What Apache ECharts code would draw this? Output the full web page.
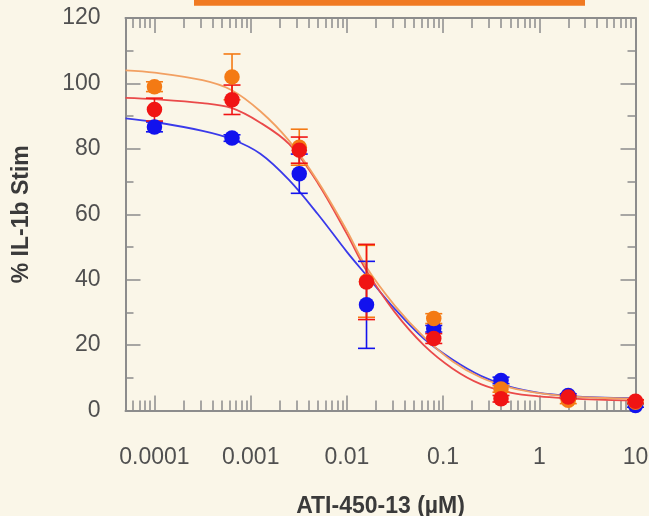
<!DOCTYPE html>
<html><head><meta charset="utf-8">
<script src="https://cdn.jsdelivr.net/npm/echarts@6/dist/echarts.min.js"></script>
<style>html,body{margin:0;padding:0;background:#faf6e8}#c{width:649px;height:516px}</style>
</head><body><div id="c"></div>
<script>
// ---- data ----
const conc = [0.0001, 0.00064, 0.0032, 0.016, 0.08, 0.4, 2, 10];
const orangeVals = [99.0, 102.0, 80.5, 39.5, 28.1, 6.6, 3.1, 2.5];
const orangeErr  = [1.5, 7.0, 5.5, 11.0, 1.5, 1.0, 1.0, 0.5];
const redVals    = [92.0, 95.0, 79.6, 39.3, 22.0, 3.6, 4.1, 2.8];
const redErr     = [3.5, 4.5, 4.0, 11.5, 1.5, 1.0, 0.5, 0.5];
const blueVals   = [86.7, 83.3, 72.4, 32.3, 25.0, 9.2, 4.6, 1.5];
const blueErr    = [1.5, 1.0, 6.0, 13.3, 1.0, 1.0, 0.5, 0.5];

// fitted curves
const curveConc   = [0.00005, 0.0001, 0.000316, 0.00063, 0.00126, 0.0025, 0.005, 0.01, 0.0158, 0.0316, 0.063, 0.126, 0.25, 0.5, 1, 2, 4, 10];
const orangeCurve = [104.0, 103.3, 101.0, 98.0, 91.5, 82.5, 70.0, 55.0, 44.0, 32.0, 22.5, 15.0, 10.0, 7.0, 5.3, 4.4, 3.9, 3.6];
const redCurve    = [95.6, 95.2, 94.0, 92.5, 88.0, 81.5, 69.5, 54.0, 43.0, 30.0, 20.0, 12.8, 8.0, 5.5, 4.3, 3.7, 3.3, 3.0];
const blueCurve   = [89.3, 88.2, 85.5, 83.0, 78.5, 70.5, 60.0, 48.5, 41.5, 31.0, 22.0, 15.5, 10.5, 7.2, 5.4, 4.5, 4.0, 3.8];

const xTickValues = [0.0001, 0.001, 0.01, 0.1, 1, 10];
const xTickLabels = ['0.0001', '0.001', '0.01', '0.1', '1', '10'];
const xMin = 0.00005, xMax = 10;
const yMin = 0, yMax = 120, yStep = 20;
const xTitle = 'ATI-450-13 (µM)';
const yTitle = '% IL-1b Stim';

// ---- styling ----
const C_BLUE = '#1212ee', C_RED = '#f01414', C_ORANGE = '#f47a14';
const L_BLUE = '#3a3aea', L_RED = '#ea4a4a', L_ORANGE = '#f2a062';
const AXIS = '#8c8c8c';
const FONT = '"Liberation Sans", Arial, Helvetica, sans-serif';

const lg = Math.log10;
const majorLog = xTickValues.map(lg);
const minorLog = [];
for (let k = -5; k <= 1; k++) {
  for (let m = 2; m <= 9; m++) {
    const v = lg(m * Math.pow(10, k));
    if (v > lg(xMin) + 1e-9 && v < lg(xMax) - 1e-9) minorLog.push(v);
  }
}
function labelFor(v) {
  for (let i = 0; i < majorLog.length; i++) if (Math.abs(majorLog[i] - v) < 1e-6) return xTickLabels[i];
  return '';
}

function xAxisDef(pos, ticks, len, withLabels, showLine) {
  return {
    type: 'value', position: pos, min: lg(xMin), max: lg(xMax),
    axisLine: { show: showLine, onZero: false, lineStyle: { color: AXIS, width: 2 } },
    axisTick: { show: true, inside: true, length: len, customValues: ticks, lineStyle: { color: AXIS, width: 1.5 } },
    axisLabel: withLabels ? { show: true, customValues: majorLog, formatter: labelFor, margin: 36, fontSize: 23, color: '#505050', fontFamily: FONT } : { show: false },
    splitLine: { show: false },
    name: withLabels ? xTitle : '', nameLocation: 'middle', nameGap: 85,
    nameTextStyle: { fontSize: 23, fontWeight: 'bold', color: '#3a3a3a', fontFamily: FONT }
  };
}
function yAxisDef(pos, withLabels) {
  return {
    type: 'value', position: pos, min: yMin, max: yMax, interval: yStep,
    axisLine: { show: true, onZero: false, lineStyle: { color: AXIS, width: 2 } },
    axisTick: { show: true, inside: true, length: 15, lineStyle: { color: AXIS, width: 1.5 } },
    minorTick: { show: true, splitNumber: 2, length: 8, lineStyle: { color: AXIS, width: 1.5 } },
    axisLabel: withLabels ? { show: true, margin: 25, fontSize: 23, color: '#505050', fontFamily: FONT } : { show: false },
    splitLine: { show: false },
    name: withLabels ? yTitle : '', nameLocation: 'middle', nameGap: 92,
    nameTextStyle: { fontSize: 23, fontWeight: 'bold', color: '#3a3a3a', fontFamily: FONT }
  };
}

function curveSeries(vals, color) {
  return { type: 'line', xAxisIndex: 0, yAxisIndex: 0, smooth: 0.35, showSymbol: false, silent: true, z: 2,
    data: curveConc.map((c, i) => [lg(c), vals[i]]),
    lineStyle: { color: color, width: 1.8 } };
}
function errSeries(vals, errs, color) {
  return { type: 'custom', xAxisIndex: 0, yAxisIndex: 0, z: 3, silent: true,
    encode: { x: 0, y: [1, 2] },
    data: conc.map((c, i) => [lg(c), vals[i] - errs[i], vals[i] + errs[i]]),
    renderItem: function (params, api) {
      const lo = api.coord([api.value(0), api.value(1)]);
      const hi = api.coord([api.value(0), api.value(2)]);
      const w = 8.5;
      const st = { stroke: color, lineWidth: 1.6 };
      return { type: 'group', children: [
        { type: 'line', shape: { x1: hi[0], y1: hi[1], x2: lo[0], y2: lo[1] }, style: st },
        { type: 'line', shape: { x1: hi[0] - w, y1: hi[1], x2: hi[0] + w, y2: hi[1] }, style: st },
        { type: 'line', shape: { x1: lo[0] - w, y1: lo[1], x2: lo[0] + w, y2: lo[1] }, style: st }
      ] };
    } };
}
function pointSeries(vals, color, z) {
  return { type: 'scatter', xAxisIndex: 0, yAxisIndex: 0, z: z, symbol: 'circle', symbolSize: 15.5,
    data: conc.map((c, i) => [lg(c), vals[i]]), itemStyle: { color: color, opacity: 1 } };
}

const chart = echarts.init(document.getElementById('c'), null, { renderer: 'canvas' });
chart.setOption({
  backgroundColor: '#faf6e8',
  animation: false,
  grid: { left: 125.5, right: 13.5, top: 18, bottom: 105.5, containLabel: false, outerBoundsMode: 'none' },
  graphic: [{ type: 'rect', left: 194, top: -5, shape: { width: 391, height: 10.7 }, style: { fill: '#f07a22' } }],
  xAxis: [
    xAxisDef('bottom', majorLog, 15, true, true),
    xAxisDef('bottom', minorLog, 10, false, false),
    xAxisDef('top', majorLog, 15, false, true),
    xAxisDef('top', minorLog, 10, false, false)
  ],
  yAxis: [yAxisDef('left', true), yAxisDef('right', false)],
  series: [
    curveSeries(blueCurve, L_BLUE),
    curveSeries(redCurve, L_RED),
    curveSeries(orangeCurve, L_ORANGE),
    errSeries(blueVals, blueErr, C_BLUE),
    errSeries(orangeVals, orangeErr, C_ORANGE),
    errSeries(redVals, redErr, C_RED),
    pointSeries(blueVals, C_BLUE, 4),
    pointSeries(orangeVals, C_ORANGE, 5),
    pointSeries(redVals, C_RED, 6)
  ]
});
</script></body></html>
